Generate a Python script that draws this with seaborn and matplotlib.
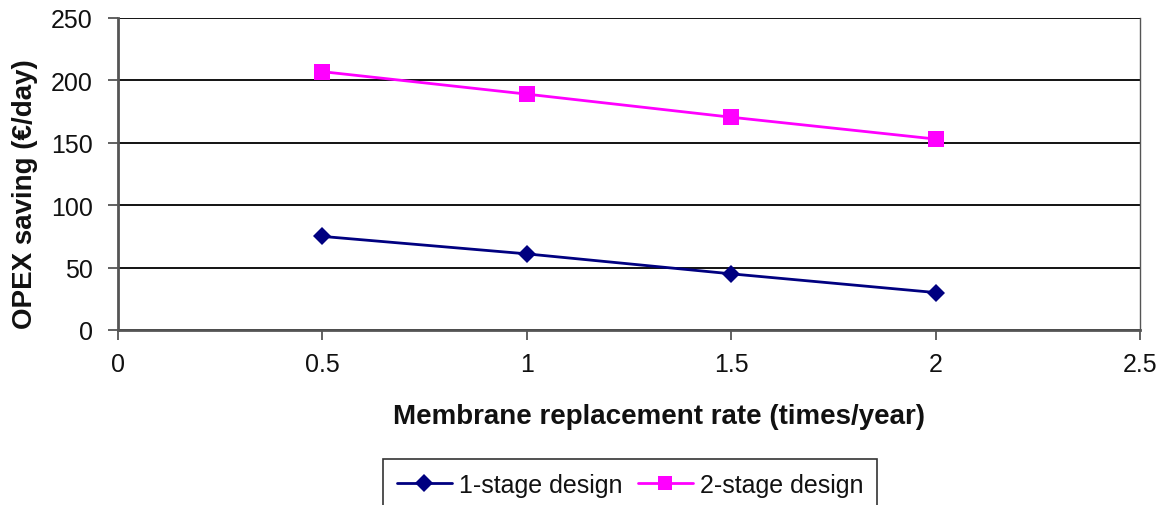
import numpy as np
import pandas as pd
import matplotlib
matplotlib.use("Agg")
import matplotlib.pyplot as plt
import seaborn as sns
from matplotlib.lines import Line2D

rates = [0.5, 1.0, 1.5, 2.0]
one_stage = [75, 61, 45, 30]
two_stage = [207, 189, 170.5, 153]
series_names = ["1-stage design", "2-stage design"]
x_ticks = [0, 0.5, 1, 1.5, 2, 2.5]
x_tick_labels = ["0", "0.5", "1", "1.5", "2", "2.5"]
y_ticks = [0, 50, 100, 150, 200, 250]

df = pd.DataFrame({
    "rate": rates * 2,
    "saving": one_stage + two_stage,
    "series": [series_names[0]] * len(rates) + [series_names[1]] * len(rates),
})

sns.set_theme(style="white")
plt.rcParams["font.family"] = ["Liberation Sans", "DejaVu Sans"]

fig = plt.figure(figsize=(11.68, 5.06), dpi=100)
ax = fig.add_axes([118/1168, 1-331/506, (1140-118)/1168, (331-19)/506])

colors = {series_names[0]: "#000080", series_names[1]: "#FF00FF"}
sns.lineplot(data=df, x="rate", y="saving", hue="series", style="series",
             markers={series_names[0]: "D", series_names[1]: "s"},
             dashes=False, palette=colors, linewidth=2, markersize=11,
             markeredgewidth=0, ax=ax, legend=False)
for line in ax.lines:
    if line.get_marker() == "D":
        line.set_markersize(9)

ax.set_xlim(0, 2.5)
ax.set_ylim(0, 250)
ax.set_xticks(x_ticks)
ax.set_xticklabels(x_tick_labels)
ax.set_yticks(y_ticks)
ax.yaxis.grid(True, color="black", linewidth=1.3)
ax.xaxis.grid(False)
ax.set_axisbelow(True)

for side in ["left", "bottom", "right"]:
    ax.spines[side].set_visible(True)
    ax.spines[side].set_color("#555555")
    ax.spines[side].set_linewidth(2)
ax.spines["right"].set_linewidth(1)
ax.spines["top"].set_visible(False)

ax.tick_params(axis="both", which="major", direction="out", length=7, width=1.3,
               color="#555555", labelsize=18, bottom=True, left=True, labelcolor="#111111")
ax.tick_params(axis="x", pad=9)
ax.tick_params(axis="y", pad=11)

ax.set_xlabel("Membrane replacement rate (times/year)", fontsize=20, fontweight="bold",
              color="#111111")
ax.set_ylabel("OPEX saving (\u20ac/day)", fontsize=20, fontweight="bold",
              color="#111111")
ax.xaxis.set_label_coords((659 - 118) / 1022, -(417 - 331) / 312)
ax.yaxis.set_label_coords(-(118 - 25) / 1022, (331 - 194) / 312)
ax.xaxis.label.set_va("center")
ax.yaxis.label.set_va("center")

handles = [
    Line2D([], [], color="#000080", marker="D", markersize=9, linewidth=2, markeredgewidth=0),
    Line2D([], [], color="#FF00FF", marker="s", markersize=10, linewidth=2, markeredgewidth=0),
]
leg = fig.legend(handles, series_names, loc="upper center", bbox_to_anchor=(630/1168, 1-460/506),
                 ncol=2, fontsize=18, frameon=True, fancybox=False, edgecolor="black",
                 handlelength=2.2, handletextpad=0.3, columnspacing=0.6, borderpad=0.55,
                 borderaxespad=0)
leg.get_frame().set_linewidth(1.2)
for t in leg.get_texts():
    t.set_color("#111111")

fig.savefig("out.png", dpi=100)
